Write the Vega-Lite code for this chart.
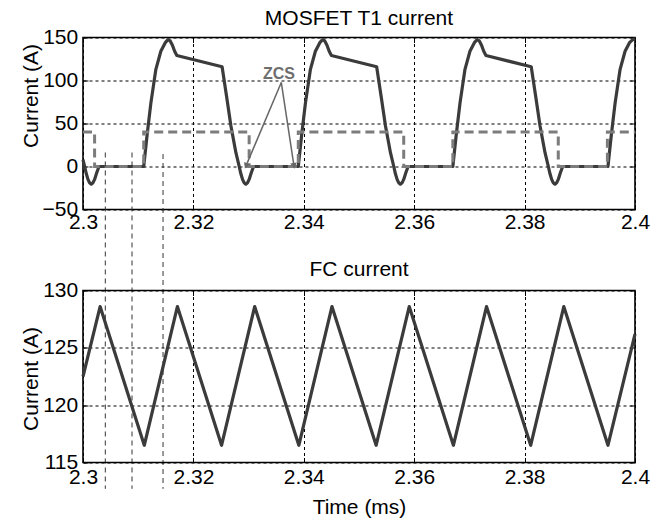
{
  "$schema": "https://vega.github.io/schema/vega-lite/v6.json",
  "padding": {"left": 19, "top": 6.5, "right": 5, "bottom": 5},
  "background": "white",
  "config": {
    "font": "Liberation Sans",
    "view": {"stroke": "#000", "strokeWidth": 1.6},
    "axis": {
      "labelFont": "Liberation Sans", "labelFontSize": 21, "labelColor": "#000",
      "titleFont": "Liberation Sans", "titleFontSize": 21, "titleFontWeight": "normal", "titleColor": "#000",
      "domain": false, "gridColor": "#000", "gridDash": [3, 3], "gridWidth": 1, "gridOpacity": 1,
      "tickColor": "#000", "tickSize": -5, "tickWidth": 1,
      "labelFlush": false, "labelOverlap": false
    },
    "title": {"font": "Liberation Sans", "fontSize": 21, "fontWeight": "normal", "color": "#000", "baseline": "alphabetic"}
  },
  "datasets": {
    "mosfet": [
      {"t": 2.3000, "i": 8}, {"t": 2.3003, "i": 0}, {"t": 2.3006, "i": -8.5}, {"t": 2.3009, "i": -15}, {"t": 2.3012, "i": -19},
      {"t": 2.3015, "i": -20.6}, {"t": 2.3018, "i": -19}, {"t": 2.3021, "i": -15}, {"t": 2.3025, "i": -7}, {"t": 2.3029, "i": 0},
      {"t": 2.3110, "i": 0}, {"t": 2.3116, "i": 36}, {"t": 2.3123, "i": 74}, {"t": 2.3132, "i": 113}, {"t": 2.3141, "i": 134},
      {"t": 2.3149, "i": 144}, {"t": 2.3154, "i": 147.5}, {"t": 2.3158, "i": 146}, {"t": 2.3162, "i": 141}, {"t": 2.3166, "i": 134},
      {"t": 2.3170, "i": 129}, {"t": 2.3252, "i": 116}, {"t": 2.3260, "i": 82}, {"t": 2.3268, "i": 47}, {"t": 2.3277, "i": 16},
      {"t": 2.3283, "i": 0}, {"t": 2.3286, "i": -8.5}, {"t": 2.3289, "i": -15}, {"t": 2.3292, "i": -19}, {"t": 2.3295, "i": -20.6},
      {"t": 2.3298, "i": -19}, {"t": 2.3301, "i": -15}, {"t": 2.3305, "i": -7}, {"t": 2.3309, "i": 0},
      {"t": 2.3390, "i": 0}, {"t": 2.3396, "i": 36}, {"t": 2.3403, "i": 74}, {"t": 2.3412, "i": 113}, {"t": 2.3421, "i": 134},
      {"t": 2.3429, "i": 144}, {"t": 2.3434, "i": 147.5}, {"t": 2.3438, "i": 146}, {"t": 2.3442, "i": 141}, {"t": 2.3446, "i": 134},
      {"t": 2.3450, "i": 129}, {"t": 2.3532, "i": 116}, {"t": 2.3540, "i": 82}, {"t": 2.3548, "i": 47}, {"t": 2.3557, "i": 16},
      {"t": 2.3563, "i": 0}, {"t": 2.3566, "i": -8.5}, {"t": 2.3569, "i": -15}, {"t": 2.3572, "i": -19}, {"t": 2.3575, "i": -20.6},
      {"t": 2.3578, "i": -19}, {"t": 2.3581, "i": -15}, {"t": 2.3585, "i": -7}, {"t": 2.3589, "i": 0},
      {"t": 2.3670, "i": 0}, {"t": 2.3676, "i": 36}, {"t": 2.3683, "i": 74}, {"t": 2.3692, "i": 113}, {"t": 2.3701, "i": 134},
      {"t": 2.3709, "i": 144}, {"t": 2.3714, "i": 147.5}, {"t": 2.3718, "i": 146}, {"t": 2.3722, "i": 141}, {"t": 2.3726, "i": 134},
      {"t": 2.3730, "i": 129}, {"t": 2.3812, "i": 116}, {"t": 2.3820, "i": 82}, {"t": 2.3828, "i": 47}, {"t": 2.3837, "i": 16},
      {"t": 2.3843, "i": 0}, {"t": 2.3846, "i": -8.5}, {"t": 2.3849, "i": -15}, {"t": 2.3852, "i": -19}, {"t": 2.3855, "i": -20.6},
      {"t": 2.3858, "i": -19}, {"t": 2.3861, "i": -15}, {"t": 2.3865, "i": -7}, {"t": 2.3869, "i": 0},
      {"t": 2.3951, "i": 0}, {"t": 2.3957, "i": 36}, {"t": 2.3964, "i": 74}, {"t": 2.3973, "i": 113}, {"t": 2.3982, "i": 134},
      {"t": 2.3990, "i": 144}, {"t": 2.3996, "i": 147.5}, {"t": 2.4000, "i": 148.5}
    ],
    "gate": [
      {"t": 2.3000, "i": 40}, {"t": 2.3021, "i": 0}, {"t": 2.3110, "i": 40}, {"t": 2.3301, "i": 0}, {"t": 2.3390, "i": 40},
      {"t": 2.3581, "i": 0}, {"t": 2.3670, "i": 40}, {"t": 2.3861, "i": 0}, {"t": 2.3950, "i": 40}, {"t": 2.4000, "i": 40}
    ],
    "fc": [
      {"t": 2.3000, "i": 122.5}, {"t": 2.3031, "i": 128.6}, {"t": 2.3111, "i": 116.5}, {"t": 2.3171, "i": 128.6}, {"t": 2.3251, "i": 116.5},
      {"t": 2.3311, "i": 128.6}, {"t": 2.3391, "i": 116.5}, {"t": 2.3451, "i": 128.6}, {"t": 2.3531, "i": 116.5}, {"t": 2.3591, "i": 128.6},
      {"t": 2.3671, "i": 116.5}, {"t": 2.3731, "i": 128.6}, {"t": 2.3811, "i": 116.5}, {"t": 2.3871, "i": 128.6}, {"t": 2.3951, "i": 116.5},
      {"t": 2.4000, "i": 126.2}
    ],
    "vlines": [
      {"t": 2.30404, "y1": 16.3, "y2": -374.8},
      {"t": 2.30888, "y1": 16.3, "y2": -374.8},
      {"t": 2.31450, "y1": 14.5, "y2": -374.8}
    ],
    "zcs": [{"t": 2.33551, "i": 107, "label": "ZCS"}],
    "arrows": [
      {"id": "a", "t0": 2.33592, "i0": 97.7, "t1": 2.32953, "i1": 0.7},
      {"id": "b", "t0": 2.33592, "i0": 97.7, "t1": 2.33822, "i1": 0.7}
    ]
  },
  "spacing": 81,
  "bounds": "flush",
  "vconcat": [
    {
      "width": 552, "height": 172,
      "title": {"text": "MOSFET T1 current", "offset": -2},
      "resolve": {"axis": {"x": "independent", "y": "independent"}},
      "layer": [
        {
          "data": {"name": "mosfet"},
          "mark": {"type": "line", "color": "#3b3b3b", "strokeWidth": 3.2, "strokeJoin": "round"},
          "encoding": {
            "x": {"field": "t", "type": "quantitative", "scale": {"domain": [2.3, 2.4], "nice": false, "zero": false},
                  "axis": {"values": [2.3, 2.32, 2.34, 2.36, 2.38, 2.4], "format": ".2~f", "title": null, "labelBaseline": "alphabetic", "labelPadding": 23.5}},
            "y": {"field": "i", "type": "quantitative", "scale": {"domain": [-50, 150], "nice": false, "zero": false},
                  "axis": {"values": [-50, 0, 50, 100, 150], "title": "Current (A)", "labelPadding": 10.3, "titleX": -52, "titleY": 58, "titleBaseline": "middle", "titleAngle": -90}}
          }
        },
        {
          "data": {"name": "gate"},
          "mark": {"type": "line", "color": "#7c7c7c", "strokeWidth": 3, "strokeDash": [9, 5], "interpolate": "step-after"},
          "encoding": {
            "x": {"field": "t", "type": "quantitative", "scale": {"domain": [2.3, 2.4], "nice": false, "zero": false},
                  "axis": {"orient": "top", "values": [2.3, 2.32, 2.34, 2.36, 2.38, 2.4], "labels": false, "grid": false, "title": null}},
            "y": {"field": "i", "type": "quantitative", "scale": {"domain": [-50, 150], "nice": false, "zero": false},
                  "axis": {"orient": "right", "values": [-50, 0, 50, 100, 150], "labels": false, "grid": false, "title": null}}
          }
        },
        {
          "data": {"name": "vlines"},
          "mark": {"type": "rule", "color": "#333", "strokeWidth": 1, "strokeDash": [5, 4]},
          "encoding": {
            "x": {"field": "t", "type": "quantitative", "scale": {"domain": [2.3, 2.4], "nice": false, "zero": false}, "axis": null},
            "y": {"field": "y1", "type": "quantitative", "scale": {"domain": [-50, 150], "nice": false, "zero": false}, "axis": null},
            "y2": {"field": "y2"}
          }
        },
        {
          "data": {"name": "arrows"},
          "mark": {"type": "rule", "color": "#666", "strokeWidth": 1.5},
          "encoding": {
            "x": {"field": "t0", "type": "quantitative", "scale": {"domain": [2.3, 2.4], "nice": false, "zero": false}, "axis": null},
            "y": {"field": "i0", "type": "quantitative", "scale": {"domain": [-50, 150], "nice": false, "zero": false}, "axis": null},
            "x2": {"field": "t1"},
            "y2": {"field": "i1"}
          }
        },
        {
          "data": {"name": "arrows"},
          "transform": [{"filter": "datum.id === 'a'"}],
          "mark": {"type": "point", "shape": "triangle-down", "filled": true, "color": "#666", "size": 45, "angle": 23, "opacity": 1},
          "encoding": {
            "x": {"field": "t1", "type": "quantitative", "scale": {"domain": [2.3, 2.4], "nice": false, "zero": false}, "axis": null},
            "y": {"field": "i1", "type": "quantitative", "scale": {"domain": [-50, 150], "nice": false, "zero": false}, "axis": null}
          }
        },
        {
          "data": {"name": "arrows"},
          "transform": [{"filter": "datum.id === 'b'"}],
          "mark": {"type": "point", "shape": "triangle-down", "filled": true, "color": "#666", "size": 45, "angle": -9, "opacity": 1},
          "encoding": {
            "x": {"field": "t1", "type": "quantitative", "scale": {"domain": [2.3, 2.4], "nice": false, "zero": false}, "axis": null},
            "y": {"field": "i1", "type": "quantitative", "scale": {"domain": [-50, 150], "nice": false, "zero": false}, "axis": null}
          }
        },
        {
          "data": {"name": "zcs"},
          "mark": {"type": "text", "font": "Liberation Sans", "fontSize": 16, "fontWeight": "bold", "color": "#6e6e6e", "baseline": "middle", "align": "center"},
          "encoding": {
            "x": {"field": "t", "type": "quantitative", "scale": {"domain": [2.3, 2.4], "nice": false, "zero": false}, "axis": null},
            "y": {"field": "i", "type": "quantitative", "scale": {"domain": [-50, 150], "nice": false, "zero": false}, "axis": null},
            "text": {"field": "label"}
          }
        }
      ]
    },
    {
      "width": 552, "height": 172,
      "title": {"text": "FC current", "offset": -0.3},
      "resolve": {"axis": {"x": "independent", "y": "independent"}},
      "layer": [
        {
          "data": {"name": "fc"},
          "mark": {"type": "line", "color": "#3b3b3b", "strokeWidth": 3.2, "strokeJoin": "round"},
          "encoding": {
            "x": {"field": "t", "type": "quantitative", "scale": {"domain": [2.3, 2.4], "nice": false, "zero": false},
                  "axis": {"values": [2.3, 2.32, 2.34, 2.36, 2.38, 2.4], "format": ".2~f", "title": "Time (ms)", "labelBaseline": "alphabetic", "labelPadding": 26, "titleY": 50.5, "titleBaseline": "alphabetic"}},
            "y": {"field": "i", "type": "quantitative", "scale": {"domain": [115, 130], "nice": false, "zero": false},
                  "axis": {"values": [115, 120, 125, 130], "title": "Current (A)", "labelPadding": 10.3, "titleX": -52, "titleY": 88, "titleBaseline": "middle", "titleAngle": -90}}
          }
        },
        {
          "data": {"name": "fc"},
          "mark": {"type": "point", "opacity": 0, "size": 1},
          "encoding": {
            "x": {"field": "t", "type": "quantitative", "scale": {"domain": [2.3, 2.4], "nice": false, "zero": false},
                  "axis": {"orient": "top", "values": [2.3, 2.32, 2.34, 2.36, 2.38, 2.4], "labels": false, "grid": false, "title": null}},
            "y": {"field": "i", "type": "quantitative", "scale": {"domain": [115, 130], "nice": false, "zero": false},
                  "axis": {"orient": "right", "values": [115, 120, 125, 130], "labels": false, "grid": false, "title": null}}
          }
        }
      ]
    }
  ]
}
